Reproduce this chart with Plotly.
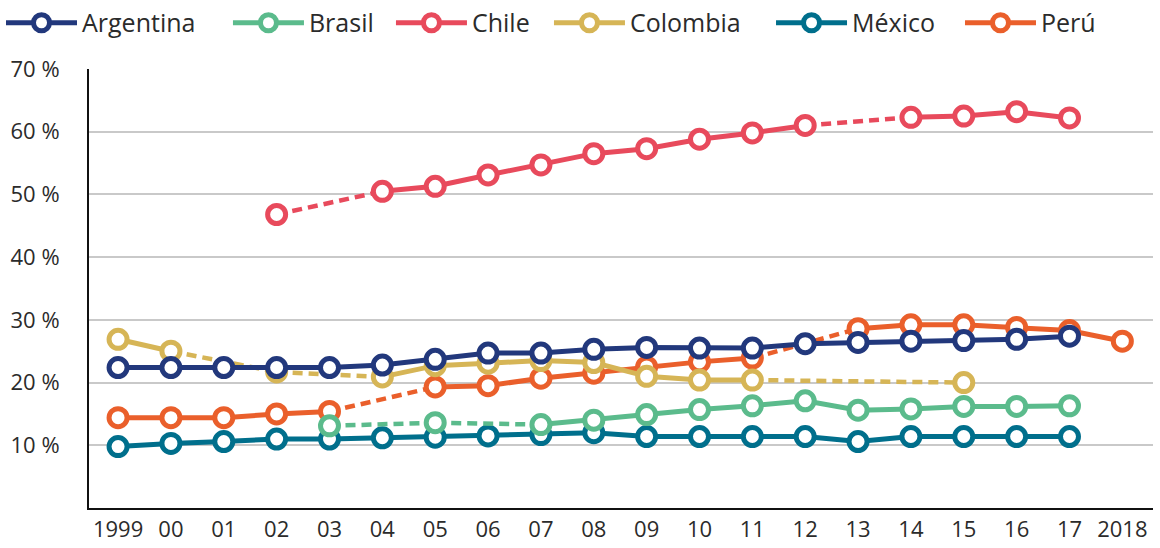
import plotly.graph_objects as go

years = ["1999", "00", "01", "02", "03", "04", "05", "06", "07", "08",
         "09", "10", "11", "12", "13", "14", "15", "16", "17", "2018"]

argentina = [22.4, 22.4, 22.4, 22.4, 22.4, 22.8, 23.7, 24.7, 24.7, 25.3,
             25.6, 25.5, 25.5, 26.2, 26.4, 26.6, 26.7, 26.9, 27.4, None]
brasil = [None, None, None, None, 13.1, None, 13.6, None, 13.3, 14.0,
          14.9, 15.7, 16.3, 17.1, 15.6, 15.8, 16.2, 16.2, 16.3, None]
chile = [None, None, None, 46.8, None, 50.5, 51.3, 53.1, 54.7, 56.5,
         57.3, 58.8, 59.8, 61.0, None, 62.3, 62.5, 63.2, 62.2, None]
colombia = [26.9, 25.0, None, 21.7, None, 20.9, 22.7, 23.1, 23.5, 23.2,
            21.0, 20.4, 20.4, None, None, None, 20.0, None, None, None]
mexico = [9.8, 10.3, 10.6, 11.0, 11.0, 11.2, 11.3, 11.5, 11.7, 12.0,
          11.4, 11.4, 11.4, 11.4, 10.6, 11.4, 11.4, 11.4, 11.4, None]
peru = [14.4, 14.4, 14.4, 15.0, 15.4, None, 19.3, 19.5, 20.7, 21.5,
        22.5, 23.3, 23.9, None, 28.6, 29.2, 29.2, 28.8, 28.3, 26.6]

names = ["Argentina", "Brasil", "Chile", "Colombia", "México", "Perú"]
values = [argentina, brasil, chile, colombia, mexico, peru]
colors = ["#22387c", "#5bbb8c", "#e84a5c", "#d6b556", "#006f8c", "#ea5f2b"]
# legend entry left positions (paper fraction)
legend_x = [-0.0827, 0.1306, 0.2838, 0.4323, 0.6410, 0.8186]

ytick_vals = [10, 20, 30, 40, 50, 60, 70]
ytick_text = [f"{v} %" for v in ytick_vals]

FONT = "Open Sans"
xs = list(range(len(years)))


def gap_bridges(vals):
    bx, by = [], []
    last = None
    for i, v in enumerate(vals):
        if v is None:
            continue
        if last is not None and i - last > 1:
            bx += [last, i, None]
            by += [vals[last], v, None]
        last = i
    return bx, by


fig = go.Figure()
legend_layouts = {}
for k in reversed(range(len(names))):
    name, vals, color = names[k], values[k], colors[k]
    lname = "legend" if k == 0 else f"legend{k + 1}"
    bx, by = gap_bridges(vals)
    if bx:
        fig.add_trace(go.Scatter(
            x=bx, y=by, mode="lines", showlegend=False, hoverinfo="skip",
            line=dict(color=color, width=4.5, dash="10px,6px"),
        ))
    fig.add_trace(go.Scatter(
        x=xs, y=vals, name=name, mode="lines+markers", connectgaps=False,
        legend=lname,
        line=dict(color=color, width=5),
        marker=dict(symbol="circle", size=18, color="white",
                    line=dict(color=color, width=5)),
    ))
    legend_layouts[lname] = dict(
        orientation="h", x=legend_x[k], xanchor="left",
        y=1.1048, yanchor="middle", bgcolor="rgba(0,0,0,0)",
        font=dict(size=25, family=FONT, color="#2b2b2b"),
        itemwidth=71, itemsizing="trace",
    )

fig.update_layout(
    width=1160, height=548,
    margin=dict(l=89, r=7, t=69, b=40, pad=0, autoexpand=False),
    paper_bgcolor="white", plot_bgcolor="white",
    font=dict(family=FONT, color="#2b2b2b", size=20),
    xaxis=dict(range=[-0.55, 19.58], tickmode="array", tickvals=xs,
               ticktext=years, showgrid=False, zeroline=False,
               showline=True, linecolor="#111111", linewidth=2,
               ticks="", ticklabelstandoff=1,
               tickfont=dict(size=22, family=FONT, color="#2b2b2b")),
    yaxis=dict(range=[0, 70], tickmode="array", tickvals=ytick_vals,
               ticktext=ytick_text, showgrid=True, gridcolor="#c9c9c9",
               gridwidth=1.5, zeroline=False,
               showline=True, linecolor="#111111", linewidth=2,
               ticks="", ticklabelstandoff=23,
               tickfont=dict(size=22, family=FONT, color="#2b2b2b")),
    **legend_layouts,
)

fig.write_html(
    "out.html",
    config={"displayModeBar": False},
    post_script="document.body.style.margin='0px';"
                "document.body.style.overflow='hidden';",
)
